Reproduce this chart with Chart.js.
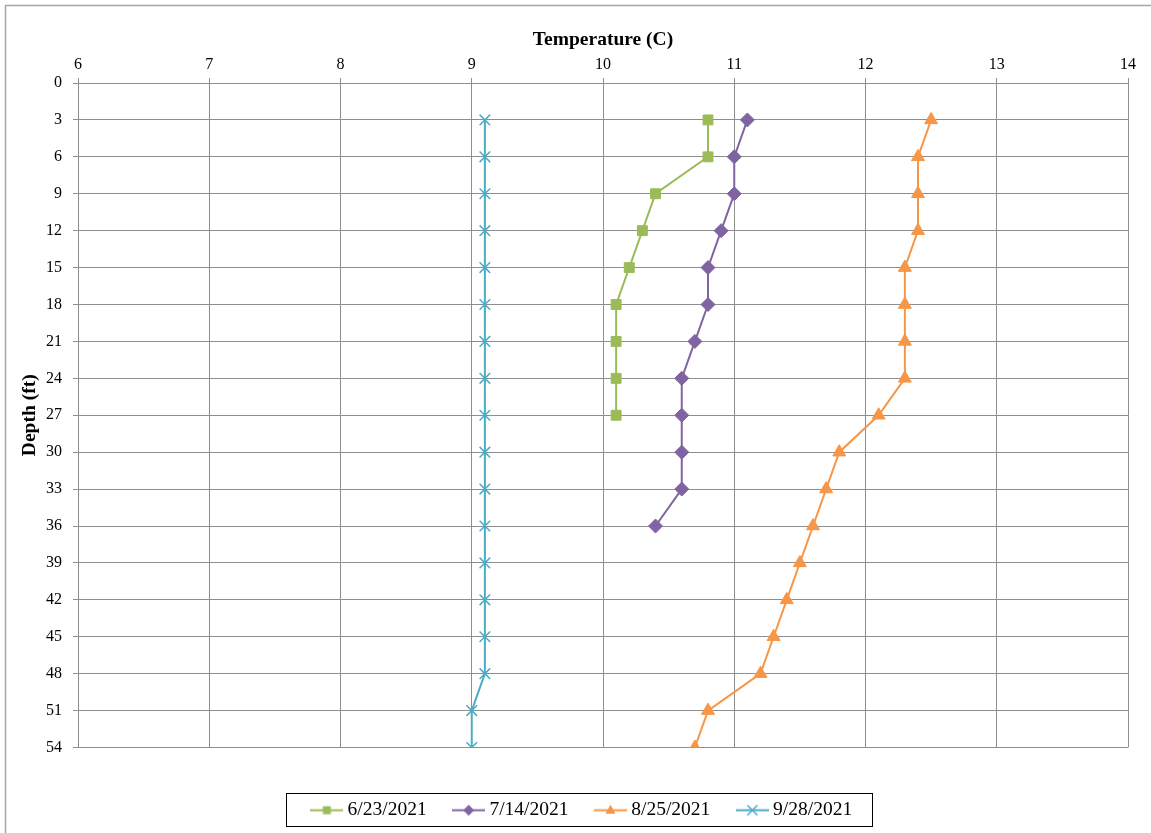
<!DOCTYPE html>
<html>
<head>
<meta charset="utf-8">
<title>Temperature profile by depth</title>
<script src="https://cdn.jsdelivr.net/npm/chart.js@4.4.1/dist/chart.umd.min.js"></script>
<style>
  html, body { margin: 0; padding: 0; background: #ffffff; }
  #wrap { position: relative; width: 1151px; height: 833px; }
</style>
</head>
<body>
<div id="wrap"><canvas id="chart"></canvas></div>
<script>
// Survey dates (one profile per date)
const seriesNames = ['6/23/2021', '7/14/2021', '8/25/2021', '9/28/2021'];

// Depths (ft) sampled in each profile
const depths0623 = [3, 6, 9, 12, 15, 18, 21, 24, 27];
const depths0714 = [3, 6, 9, 12, 15, 18, 21, 24, 27, 30, 33, 36];
const depths0825 = [3, 6, 9, 12, 15, 18, 21, 24, 27, 30, 33, 36, 39, 42, 45, 48, 51, 54];
const depths0928 = [3, 6, 9, 12, 15, 18, 21, 24, 27, 30, 33, 36, 39, 42, 45, 48, 51, 54];

// Temperatures (C) at those depths
const temps0623 = [10.8, 10.8, 10.4, 10.3, 10.2, 10.1, 10.1, 10.1, 10.1];
const temps0714 = [11.1, 11.0, 11.0, 10.9, 10.8, 10.8, 10.7, 10.6, 10.6, 10.6, 10.6, 10.4];
const temps0825 = [12.5, 12.4, 12.4, 12.4, 12.3, 12.3, 12.3, 12.3, 12.1, 11.8, 11.7, 11.6, 11.5, 11.4, 11.3, 11.2, 10.8, 10.7];
const temps0928 = [9.1, 9.1, 9.1, 9.1, 9.1, 9.1, 9.1, 9.1, 9.1, 9.1, 9.1, 9.1, 9.1, 9.1, 9.1, 9.1, 9.0, 9.0];

// Axis ranges / tick spacing
const tempTicks = [6, 7, 8, 9, 10, 11, 12, 13, 14];
const depthTicks = [0, 3, 6, 9, 12, 15, 18, 21, 24, 27, 30, 33, 36, 39, 42, 45, 48, 51, 54];

const COLORS = ['#9bbb59', '#8064a2', '#f79646', '#4bacc6'];
const STYLES = ['rect', 'rectRot', 'triangle', 'crossRot'];
const RADII = [7, 7, 7.5, 7.5];
const SERIF = '"Liberation Serif", "Times New Roman", Times, serif';
const GRID = '#8e8e8e';
const LEGEND_SHIFT = 20;

function toPoints(temps, depths) {
  return temps.map((t, i) => ({ x: t, y: depths[i] }));
}

// Legend swatch: a short line with the series marker in the middle
function legendSwatch(color, style) {
  const c = document.createElement('canvas');
  c.width = 33; c.height = 19;
  const g = c.getContext('2d');
  g.strokeStyle = color; g.fillStyle = color; g.lineWidth = 2;
  g.beginPath(); g.moveTo(0, 9.5); g.lineTo(33, 9.5); g.stroke();
  const cx = 16.5, cy = 9.5;
  g.beginPath();
  if (style === 'rect') {
    g.fillRect(cx - 4, cy - 4, 8, 8);
  } else if (style === 'rectRot') {
    g.moveTo(cx, cy - 5.5); g.lineTo(cx + 5.5, cy); g.lineTo(cx, cy + 5.5); g.lineTo(cx - 5.5, cy); g.closePath(); g.fill();
  } else if (style === 'triangle') {
    g.moveTo(cx, cy - 5.5); g.lineTo(cx + 5, cy + 3.5); g.lineTo(cx - 5, cy + 3.5); g.closePath(); g.fill();
  } else {
    g.lineWidth = 1.5;
    g.moveTo(cx - 5, cy - 5); g.lineTo(cx + 5, cy + 5);
    g.moveTo(cx + 5, cy - 5); g.lineTo(cx - 5, cy + 5); g.stroke();
  }
  return c;
}

const allTemps = [temps0623, temps0714, temps0825, temps0928];
const allDepths = [depths0623, depths0714, depths0825, depths0928];

const datasets = seriesNames.map((name, i) => ({
  label: name,
  data: toPoints(allTemps[i], allDepths[i]),
  showLine: true,
  borderColor: COLORS[i],
  backgroundColor: COLORS[i],
  borderWidth: 2,
  pointStyle: STYLES[i],
  pointRadius: RADII[i],
  pointHoverRadius: RADII[i],
  pointBorderWidth: i === 3 ? 1.5 : 1,
  pointBorderColor: COLORS[i],
  pointBackgroundColor: COLORS[i],
  tension: 0
}));

const swatches = seriesNames.map((_, i) => legendSwatch(COLORS[i], STYLES[i]));

// Outer frame and the box around the legend
const framePlugin = {
  id: 'frames',
  afterUpdate(chart) {
    // move the centred legend row a little to the right
    chart.legend.left += LEGEND_SHIFT;
    chart.legend.right += LEGEND_SHIFT;
  },
  afterDraw(chart) {
    const ctx = chart.ctx;
    ctx.save();
    ctx.strokeStyle = '#a6a6a6';
    ctx.lineWidth = 1.5;
    ctx.strokeRect(5.5, 5.5, 1300, 1000);
    const boxes = chart.legend.legendHitBoxes;
    if (boxes && boxes.length) {
      const first = boxes[0];
      const last = boxes[boxes.length - 1];
      const l = first.left + LEGEND_SHIFT - 5.5 - 24;
      const r = last.left + last.width + LEGEND_SHIFT + 20;
      ctx.strokeStyle = '#000000';
      ctx.lineWidth = 1;
      ctx.strokeRect(Math.round(l) + 0.5, 793.5, Math.round(r - l), 33);
    }
    ctx.restore();
  }
};

new Chart(document.getElementById('chart'), {
  type: 'scatter',
  data: { datasets },
  plugins: [framePlugin],
  options: {
    responsive: true,
    maintainAspectRatio: false,
    animation: false,
    layout: { padding: { left: 0, right: 23, top: 0, bottom: 3 } },
    plugins: {
      tooltip: { enabled: false },
      legend: {
        position: 'bottom',
        title: { display: true, text: '', font: { size: 10, lineHeight: 1 }, padding: { top: 12, bottom: 0 } },
        labels: {
          usePointStyle: true,
          pointStyleWidth: 22,
          padding: 31,
          color: '#000000',
          font: { family: SERIF, size: 19.5 },
          generateLabels(chart) {
            return chart.data.datasets.map((ds, i) => ({
              text: ds.label,
              pointStyle: swatches[i],
              fillStyle: ds.borderColor,
              strokeStyle: ds.borderColor,
              lineWidth: 0,
              hidden: false,
              datasetIndex: i,
              fontColor: '#000000'
            }));
          }
        }
      }
    },
    scales: {
      x: {
        type: 'linear',
        position: 'top',
        min: tempTicks[0],
        max: tempTicks[tempTicks.length - 1],
        afterBuildTicks(scale) { scale.ticks = tempTicks.map(v => ({ value: v })); },
        afterFit(scale) { scale.height = 83; },
        grid: { color: GRID, lineWidth: 1, tickLength: 5, tickColor: GRID },
        border: { color: GRID, width: 1 },
        ticks: { color: '#000000', font: { family: SERIF, size: 16 }, padding: 4 },
        title: {
          display: true,
          text: 'Temperature (C)',
          color: '#000000',
          font: { family: SERIF, size: 19.5, weight: 'bold' },
          padding: { top: 28, bottom: 0 }
        }
      },
      y: {
        type: 'linear',
        position: 'left',
        reverse: true,
        min: depthTicks[0],
        max: depthTicks[depthTicks.length - 1],
        afterBuildTicks(scale) { scale.ticks = depthTicks.map(v => ({ value: v })); },
        afterFit(scale) { scale.width = 78; },
        grid: { color: GRID, lineWidth: 1, tickLength: 5, tickColor: GRID },
        border: { color: GRID, width: 1 },
        ticks: { color: '#000000', font: { family: SERIF, size: 16 }, padding: 11 },
        title: {
          display: true,
          text: 'Depth (ft)',
          color: '#000000',
          font: { family: SERIF, size: 19.5, weight: 'bold' },
          padding: { top: 18, bottom: 0 }
        }
      }
    }
  }
});
</script>
</body>
</html>
